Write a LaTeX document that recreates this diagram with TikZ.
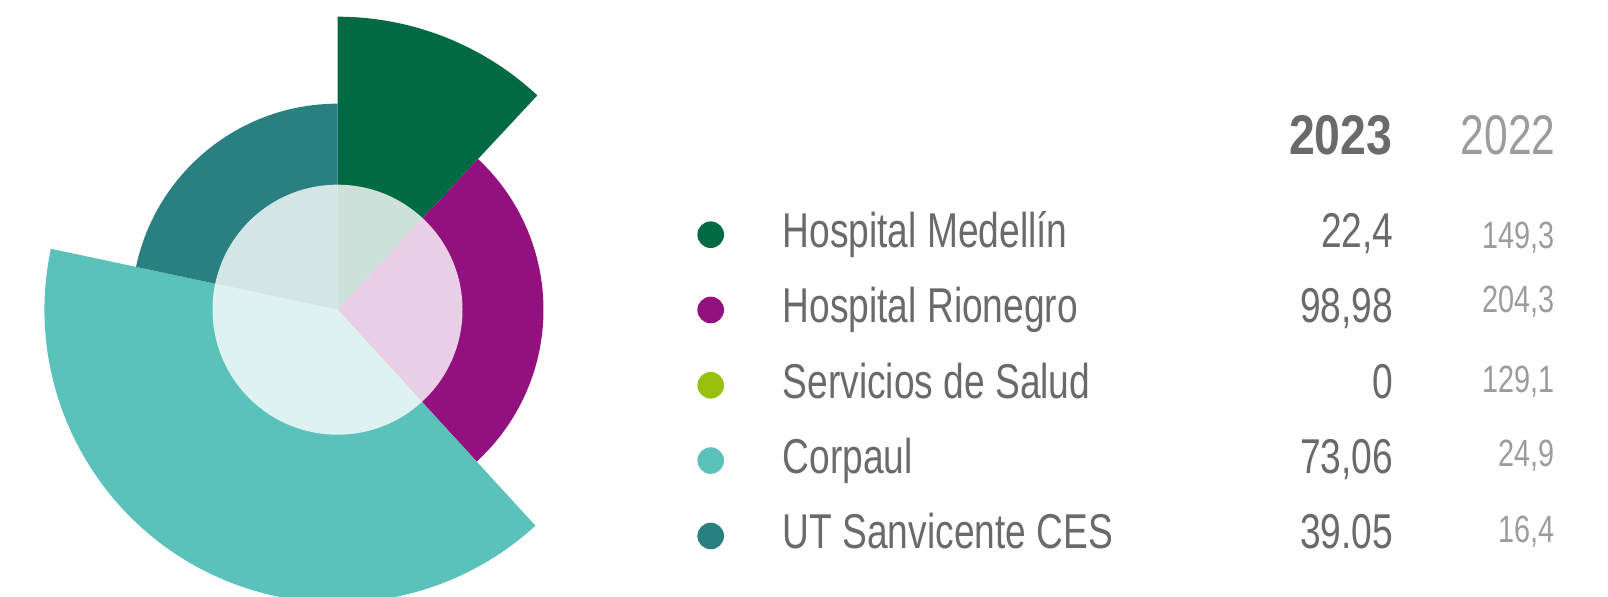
\documentclass[tikz,border=0pt]{standalone}
\usepackage{fontspec}
\setmainfont[FakeStretch=0.76]{Liberation Sans}
\newfontfamily\headfont[FakeStretch=0.83]{Liberation Sans}

\definecolor{medgreen}{HTML}{006B42}
\definecolor{riopurple}{HTML}{93117E}
\definecolor{saludlime}{HTML}{97BF0D}
\definecolor{corpteal}{HTML}{5BC2BA}
\definecolor{utteal}{HTML}{2A8080}
\definecolor{txtgray}{HTML}{6A6A6A}
\definecolor{oldgray}{HTML}{9C9C9C}

\tikzset{
  legdot/.style={circle, inner sep=0pt, minimum size=2.66mm},
  rowtxt/.style={anchor=base west, inner sep=0pt, text=txtgray, font=\fontsize{13.9}{16}\selectfont},
  valnew/.style={anchor=base east, inner sep=0pt, text=txtgray, font=\fontsize{13.9}{16}\selectfont},
  valold/.style={anchor=base east, inner sep=0pt, text=oldgray, font=\fontsize{10.8}{13}\selectfont},
  headnew/.style={anchor=base east, inner sep=0pt, text=txtgray, font=\headfont\bfseries\fontsize{15.9}{18}\selectfont},
  headold/.style={anchor=base east, inner sep=0pt, text=oldgray, font=\fontsize{15.9}{18}\selectfont}
}

\begin{document}
\begin{tikzpicture}[x=0.01cm,y=0.01cm]
	\useasboundingbox (0,0) rectangle (1608,597);
	\clip (0,0) rectangle (1608,597);
	
	% sectors
	\coordinate (c) at (337.5,287.3);
	\fill[medgreen] (c) -- ++(47:293) arc[start angle=47, end angle=90, radius=293] -- cycle;
	\fill[riopurple] (c) -- ++(-47.5:206) arc[start angle=-47.5, end angle=47, radius=206] -- cycle;
	\fill[corpteal] (c) -- ++(168:293) arc[start angle=168, end angle=312.5, radius=293] -- cycle;
	\fill[utteal] (c) -- ++(90:206) arc[start angle=90, end angle=168, radius=206] -- cycle;
	\fill[white, opacity=0.8] (c) circle[radius=125];
	
	% header
	\node[headnew] (y23) at (1393,442) {2023};
	\node[headold] (y22) at (1556,442) {2022};
	
	% rows
	\node[legdot, fill=medgreen] (dmed) at (710.7,362.3) {};
	\node[rowtxt] (med) at (782,349.3) {Hospital Medellín};
	\node[valnew] (nmed) at (1394,349.3) {22,4};
	\node[valold] (omed) at (1555,348) {149,3};
	
	\node[legdot, fill=riopurple] (drio) at (710.7,287) {};
	\node[rowtxt] (rio) at (782,274) {Hospital Rionegro};
	\node[valnew] (nrio) at (1394,274) {98,98};
	\node[valold] (orio) at (1555,284) {204,3};
	
	\node[legdot, fill=saludlime] (dsal) at (710.7,211.7) {};
	\node[rowtxt] (sal) at (782,198.7) {Servicios de Salud};
	\node[valnew] (nsal) at (1394,198.7) {0};
	\node[valold] (osal) at (1555,204) {129,1};
	
	\node[legdot, fill=corpteal] (dcor) at (710.7,136.4) {};
	\node[rowtxt] (cor) at (782,123.4) {Corpaul};
	\node[valnew] (ncor) at (1394,123.4) {73,06};
	\node[valold] (ocor) at (1555,130) {24,9};
	
	\node[legdot, fill=utteal] (dut) at (710.7,61) {};
	\node[rowtxt] (ut) at (782,48) {UT Sanvicente CES};
	\node[valnew] (nut) at (1394,48) {39.05};
	\node[valold] (out) at (1555,54) {16,4};
\end{tikzpicture}
\end{document}
